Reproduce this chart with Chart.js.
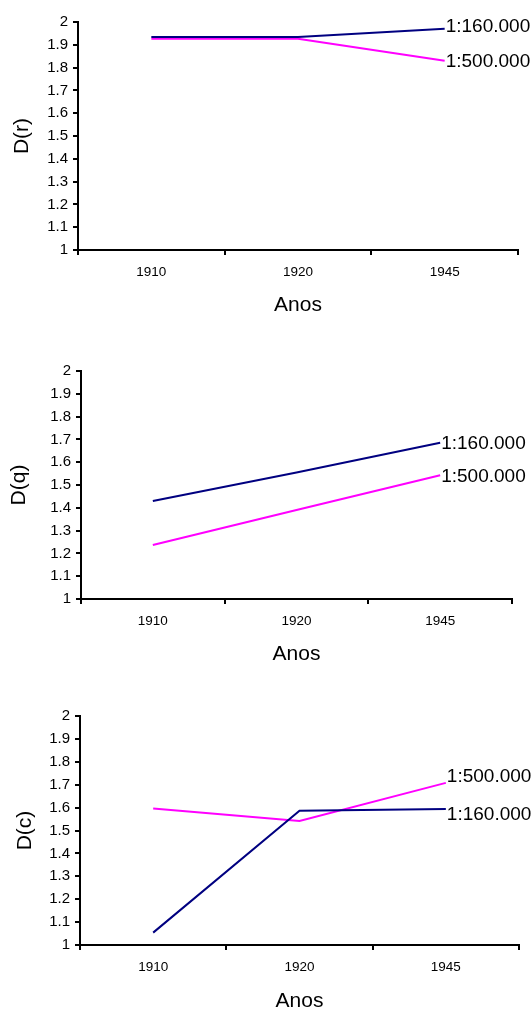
<!DOCTYPE html>
<html>
<head>
<meta charset="utf-8">
<script src="https://cdn.jsdelivr.net/npm/chart.js@4.4.1/dist/chart.umd.min.js"></script>
<style>
  html, body { margin: 0; padding: 0; background: #fff; overflow: hidden; }
  body { width: 532px; height: 1011px; position: relative; }
  .box { position: absolute; left: 0; width: 532px; }
</style>
</head>
<body>
<div class="box" style="top:0px;height:330px"><canvas id="chartR"></canvas></div>
<div class="box" style="top:340px;height:330px"><canvas id="chartQ"></canvas></div>
<div class="box" style="top:680px;height:340px"><canvas id="chartC"></canvas></div>
<script>
// data
const years = ['1910', '1920', '1945'];
const seriesNames = ['1:160.000', '1:500.000'];

const dr160 = [1.934, 1.934, 1.97];
const dr500 = [1.927, 1.927, 1.83];

const dq160 = [1.43, 1.555, 1.685];
const dq500 = [1.237, 1.39, 1.543];

const dc160 = [1.054, 1.586, 1.594];
const dc500 = [1.596, 1.542, 1.708];

const yTicks = ['1', '1.1', '1.2', '1.3', '1.4', '1.5', '1.6', '1.7', '1.8', '1.9', '2'];

Chart.defaults.font.family = 'Arial, "Liberation Sans", sans-serif';
Chart.defaults.color = '#000';

// draws series name right after the last point of each line
const endLabels = {
	id: 'endLabels',
	afterDatasetsDraw(chart, args, opts) {
		const ctx = chart.ctx;
		ctx.save();
		ctx.font = '19px Arial, "Liberation Sans", sans-serif';
		ctx.fillStyle = '#000';
		ctx.textAlign = 'left';
		ctx.textBaseline = 'middle';
		chart.data.datasets.forEach((ds, i) => {
			const pts = chart.getDatasetMeta(i).data;
			const p = pts[pts.length - 1];
			ctx.fillText(ds.label, p.x + 1, p.y + (opts.dy[i] || 0));
		});
		ctx.restore();
	}
};

function makeChart(id, yTitle, s160, s500, lay) {
	new Chart(document.getElementById(id), {
		type: 'line',
		data: {
			labels: years,
			datasets: [
				{ label: seriesNames[0], data: s160, borderColor: '#000080', borderWidth: 2, pointRadius: 0, tension: 0 },
				{ label: seriesNames[1], data: s500, borderColor: '#ff00ff', borderWidth: 2, pointRadius: 0, tension: 0 }
			]
		},
		options: {
			responsive: true,
			maintainAspectRatio: false,
			animation: false,
			layout: { padding: { top: lay.top, right: lay.right, left: 0, bottom: 0 } },
			plugins: {
				legend: { display: false },
				tooltip: { enabled: false },
				endLabels: { dy: lay.dy }
			},
			scales: {
				x: {
					offset: true,
					grid: { offset: true, drawOnChartArea: false, drawTicks: true, tickLength: 5, color: '#000', lineWidth: 2 },
					border: { color: '#000', width: 2 },
					ticks: { font: { size: 13.5 }, padding: 9, maxRotation: 0 },
					title: { display: true, text: 'Anos', font: { size: 21 }, padding: { top: 0, bottom: lay.titleB } },
					afterFit: (s) => { s.height = lay.xh; }
				},
				y: {
					min: 1,
					max: 2,
					grid: { drawOnChartArea: false, drawTicks: true, tickLength: 5, color: '#000', lineWidth: 2 },
					border: { color: '#000', width: 2 },
					ticks: {
						stepSize: 0.1,
						font: { size: 15 },
						padding: 5,
						callback: (v, i) => yTicks[i]
					},
					title: { display: true, text: yTitle, font: { size: 21 }, padding: { top: lay.titleL, bottom: 0 } },
					afterFit: (s) => { s.width = lay.yw; }
				}
			}
		},
		plugins: [endLabels]
	});
}

makeChart('chartR', 'D(r)', dr160, dr500, { top: 22, right: 14, yw: 78, xh: 80, titleB: 12, titleL: 10, dy: [-2, 1] });
makeChart('chartQ', 'D(q)', dq160, dq500, { top: 31, right: 20, yw: 81, xh: 71, titleB: 3, titleL: 7, dy: [1, 2] });
makeChart('chartC', 'D(c)', dc160, dc500, { top: 36, right: 13, yw: 80, xh: 75, titleB: 6, titleL: 13, dy: [6, -6] });
</script>
</body>
</html>
